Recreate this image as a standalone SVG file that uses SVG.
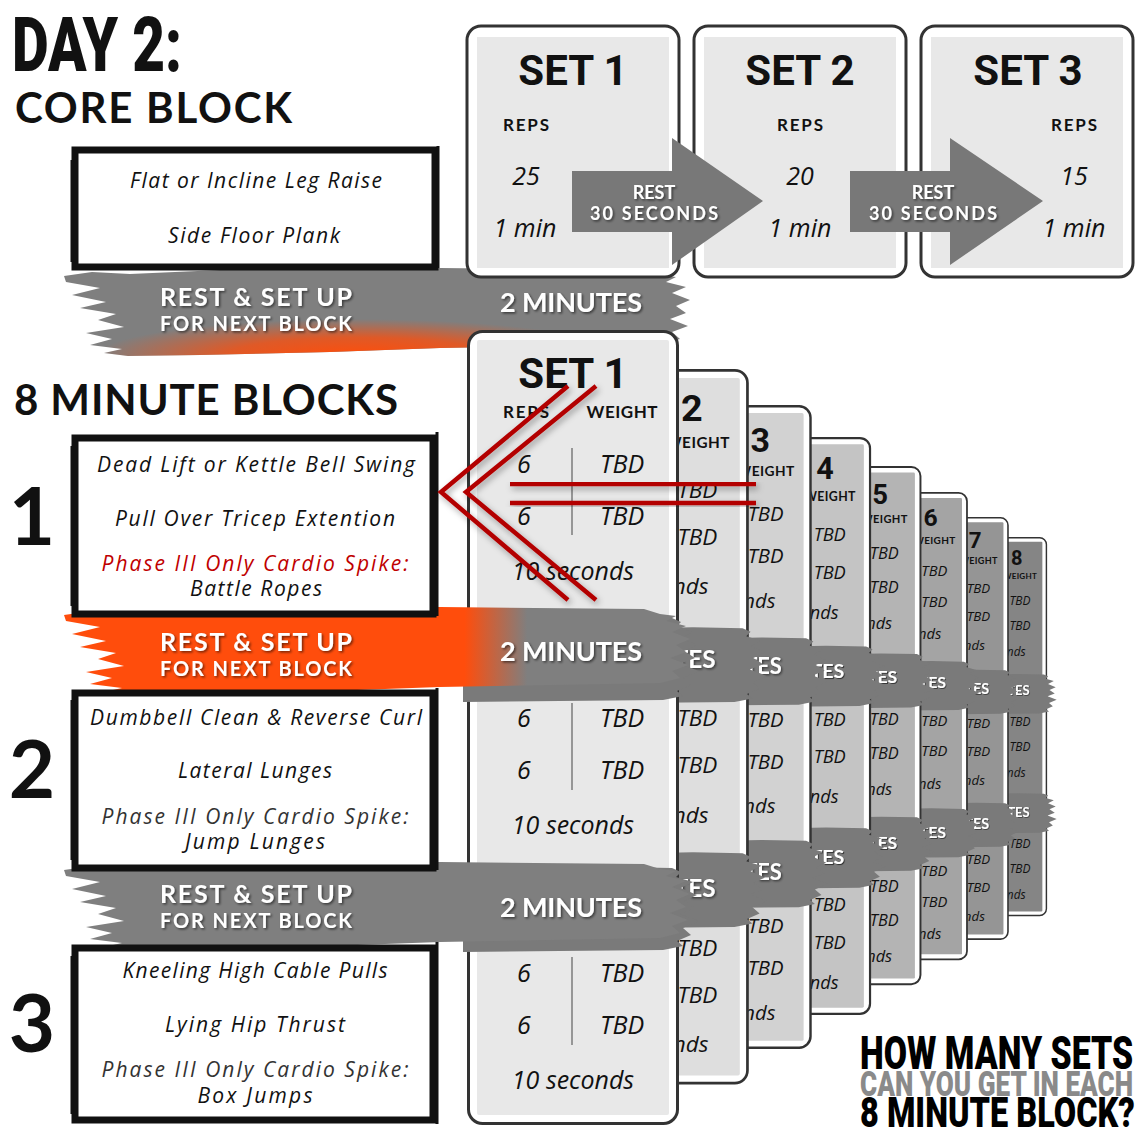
<svg xmlns="http://www.w3.org/2000/svg" xmlns:xlink="http://www.w3.org/1999/xlink" width="1148" height="1148" viewBox="0 0 1148 1148">
<style>
.hw{font-family:"Open Sans","Noto Sans",sans-serif;font-style:italic;fill:#111}
.bx{font-size:21px;text-anchor:middle}
.cv{font-size:25px;text-anchor:middle}
.sans{font-family:Lato,"Open Sans",sans-serif;font-weight:700}
.wt{fill:#fff;filter:url(#sh);text-anchor:middle}
.lbl{font-family:Lato,"Open Sans",sans-serif;font-weight:700;font-size:17px;fill:#111;text-anchor:middle}
.setT{font-family:Roboto,"Liberation Sans",sans-serif;font-weight:700;font-size:42px;fill:#111;text-anchor:middle}
.cOut{fill:#fff;stroke:#333;stroke-width:3}
.cIn{fill:#e8e8e8}
.dv{stroke:#444;stroke-width:1;fill:none}
.strip{fill:#7a7a7a}
.frame{fill:#fff;stroke:#111;stroke-width:7}
.streak{stroke:#111;fill:none}
.arrow{fill:#787878}
.red{stroke:#b30000;stroke-width:4.5;fill:none;filter:url(#shR)}
.imp{font-family:Roboto,"Liberation Sans",sans-serif;font-weight:900}
.big{font-size:25px}
.sub{font-size:20px}
.min{font-size:27px}
.ph{fill:#333}
.phr{fill:#c00000}
.num{font-family:Lato,"Open Sans",sans-serif;font-weight:700;font-size:80px;fill:#111;text-anchor:middle}
.hd{font-family:Lato,"Open Sans",sans-serif;font-weight:700;font-size:42px;fill:#111}
</style>
<defs>
<filter id="sh" x="-10%" y="-20%" width="130%" height="160%">
<feDropShadow dx="1.5" dy="1.5" stdDeviation="1" flood-color="#000" flood-opacity="0.55"/>
</filter>
<filter id="shR" x="-10%" y="-10%" width="130%" height="130%">
<feDropShadow dx="2" dy="3" stdDeviation="3" flood-color="#000" flood-opacity="0.35"/>
</filter>
<radialGradient id="glow" cx="0.47" cy="1" r="0.42">
<stop offset="0" stop-color="#ff4d0a" stop-opacity="1"/>
<stop offset="0.5" stop-color="#ff4d0a" stop-opacity="0.75"/>
<stop offset="1" stop-color="#ff4d0a" stop-opacity="0"/>
</radialGradient>
<linearGradient id="og" x1="0" y1="0" x2="1" y2="0">
<stop offset="0" stop-color="#ff4d0c"/>
<stop offset="0.64" stop-color="#ff4d0c"/>
<stop offset="0.74" stop-color="#7f7f7f"/>
<stop offset="1" stop-color="#7f7f7f"/>
</linearGradient>
<path id="bn" d="M64,8 L92,4 L130,6 L220,2 L440,0 L644,2 L660,7 L676,9 L666,14 L686,19 L672,25 L690,32 L676,38 L686,45 L670,51 L688,58 L672,64 L680,71 L660,76 L440,80 L330,84 L200,87 L128,88 L104,85 L122,81 L90,77 L112,71 L86,65 L124,59 L98,52 L116,46 L80,40 L106,34 L72,27 L100,20 L66,14 Z"/>
<path id="st" d="M-4,290 L150,287 L205,288 L214,292 L209,297 L226,302 L214,308 L230,315 L217,321 L228,328 L213,334 L232,341 L216,348 L224,355 L210,361 L216,366 L196,370 L-4,372 Z"/>
<g id="cardBody">
<rect class="cOut" x="1.5" y="1.5" width="209" height="792" rx="14"/>
<rect x="10" y="10" width="192" height="775" rx="2"/>
<text class="lbl" x="59" y="88" textLength="46">REPS</text>
<text class="lbl" x="155" y="88" textLength="71">WEIGHT</text>
<path class="dv" d="M105,118V205M105,373V460M105,627V715"/>
<text class="hw cv" x="57" y="143">6</text><text class="hw cv" x="155" y="143">TBD</text>
<text class="hw cv" x="57" y="195">6</text><text class="hw cv" x="155" y="195">TBD</text>
<text class="hw cv" x="106" y="250">10 seconds</text>
<text class="hw cv" x="57" y="397">6</text><text class="hw cv" x="155" y="397">TBD</text>
<text class="hw cv" x="57" y="449">6</text><text class="hw cv" x="155" y="449">TBD</text>
<text class="hw cv" x="106" y="504">10 seconds</text>
<text class="hw cv" x="57" y="652">6</text><text class="hw cv" x="155" y="652">TBD</text>
<text class="hw cv" x="57" y="704">6</text><text class="hw cv" x="155" y="704">TBD</text>
<text class="hw cv" x="106" y="759">10 seconds</text>
<use xlink:href="#st" class="strip"/>
<text class="sans wt min" x="104" y="332" textLength="142">2 MINUTES</text>
<use xlink:href="#st" class="strip" y="250"/>
<text class="sans wt min" x="104" y="587" textLength="142">2 MINUTES</text>
</g>
</defs>

<rect width="1148" height="1148" fill="#fff"/>

<g id="titles">
<text class="imp" transform="translate(12,71) scale(0.736,1)" font-size="76" textLength="231" lengthAdjust="spacingAndGlyphs" fill="#111">DAY 2:</text>
<text class="hd" x="15" y="123" textLength="277">CORE BLOCK</text>
<text class="hd" x="14" y="415" textLength="384">8 MINUTE BLOCKS</text>
</g>

<g id="rest-core">
<use xlink:href="#bn" y="268" fill="#7f7f7f"/>
<use xlink:href="#bn" y="268" fill="url(#glow)"/>
<text class="sans wt big" x="256" y="306" textLength="192">REST &amp; SET UP</text>
<text class="sans wt sub" x="256" y="331" textLength="192">FOR NEXT BLOCK</text>
<text class="sans wt min" x="571" y="312" textLength="142">2 MINUTES</text>
</g>

<g id="core-sets">
<g id="core-set1">
<rect class="cOut" x="467" y="26" width="212" height="251" rx="14"/>
<rect class="cIn" x="477" y="37" width="192" height="231"/>
<text class="setT" x="573" y="85">SET 1</text>
<text class="lbl" x="526" y="131" textLength="46">REPS</text>
<text class="hw cv" x="526" y="185">25</text>
<text class="hw cv" x="525" y="237">1 min</text>
</g>
<g id="core-set2">
<rect class="cOut" x="694" y="26" width="212" height="251" rx="14"/>
<rect class="cIn" x="704" y="37" width="192" height="231"/>
<text class="setT" x="800" y="85">SET 2</text>
<text class="lbl" x="800" y="131" textLength="46">REPS</text>
<text class="hw cv" x="800" y="185">20</text>
<text class="hw cv" x="800" y="237">1 min</text>
</g>
<g id="core-set3">
<rect class="cOut" x="921" y="26" width="212" height="251" rx="14"/>
<rect class="cIn" x="931" y="37" width="192" height="231"/>
<text class="setT" x="1028" y="85">SET 3</text>
<text class="lbl" x="1074" y="131" textLength="46">REPS</text>
<text class="hw cv" x="1074" y="185">15</text>
<text class="hw cv" x="1074" y="237">1 min</text>
</g>
</g>

<g id="connectors">
<g id="rest-arrow1">
<polygon class="arrow" points="572,171 672,171 672,138 763,201 672,265 672,232 572,232"/>
<text class="sans wt" x="654" y="199" font-size="18">REST</text>
<text class="sans wt" x="654" y="220" font-size="18" textLength="128">30 SECONDS</text>
</g>
<g id="rest-arrow2">
<polygon class="arrow" points="850,171 950,171 950,138 1043,201 950,265 950,232 850,232"/>
<text class="sans wt" x="933" y="199" font-size="18">REST</text>
<text class="sans wt" x="933" y="220" font-size="18" textLength="128">30 SECONDS</text>
</g>
</g>

<g id="block-sets">
<g id="set8" transform="translate(946,537) scale(0.477)"><use xlink:href="#cardBody" fill="#858585"/><text class="setT" x="106" y="58">SET 8</text></g>
<g id="set7" transform="translate(896,517) scale(0.532)"><use xlink:href="#cardBody" fill="#959595"/><text class="setT" x="106" y="58">SET 7</text></g>
<g id="set6" transform="translate(843,492) scale(0.589)"><use xlink:href="#cardBody" fill="#a4a4a4"/><text class="setT" x="106" y="58">SET 6</text></g>
<g id="set5" transform="translate(783,466) scale(0.653)"><use xlink:href="#cardBody" fill="#b4b4b4"/><text class="setT" x="106" y="58">SET 5</text></g>
<g id="set4" transform="translate(717,437) scale(0.727)"><use xlink:href="#cardBody" fill="#c4c4c4"/><text class="setT" x="106" y="58">SET 4</text></g>
<g id="set3" transform="translate(640,405) scale(0.81)"><use xlink:href="#cardBody" fill="#d2d2d2"/><text class="setT" x="106" y="58">SET 3</text></g>
<g id="set2" transform="translate(558,369) scale(0.9)"><use xlink:href="#cardBody" fill="#dedede"/><text class="setT" x="106" y="58">SET 2</text></g>
<g id="set1" transform="translate(467,330)"><use xlink:href="#cardBody" fill="#e8e8e8"/><text class="setT" x="106" y="58">SET 1</text></g>
</g>

<g id="rest-1">
<use xlink:href="#bn" y="607" fill="url(#og)"/>
<text class="sans wt big" x="256" y="651" textLength="192">REST &amp; SET UP</text>
<text class="sans wt sub" x="256" y="676" textLength="192">FOR NEXT BLOCK</text>
<text class="sans wt min" x="571" y="661" textLength="142">2 MINUTES</text>
</g>
<g id="rest-2">
<use xlink:href="#bn" y="862" fill="#7f7f7f"/>
<text class="sans wt big" x="256" y="903" textLength="192">REST &amp; SET UP</text>
<text class="sans wt sub" x="256" y="928" textLength="192">FOR NEXT BLOCK</text>
<text class="sans wt min" x="571" y="917" textLength="142">2 MINUTES</text>
</g>

<g id="core-box">
<rect class="frame" x="75" y="150" width="360" height="117"/>
<path class="streak" stroke-width="3" d="M438,146V268M72,160V262"/>
<text class="hw bx" x="256" y="188" textLength="252">Flat or Incline Leg Raise</text>
<text class="hw bx" x="254" y="243" textLength="172">Side Floor Plank</text>
</g>

<g id="block1">
<text class="num" x="32" y="545">1</text>
<rect class="frame" x="75" y="438" width="358" height="176"/>
<path class="streak" stroke-width="3" d="M437,432V616M72,446V606"/>
<text class="hw bx" x="256" y="472" textLength="318">Dead Lift or Kettle Bell Swing</text>
<text class="hw bx" x="255" y="526" textLength="280">Pull Over Tricep Extention</text>
<text class="hw bx phr" x="255" y="571" textLength="307">Phase III Only Cardio Spike:</text>
<text class="hw bx" x="256" y="596" textLength="132">Battle Ropes</text>
</g>

<g id="block2">
<text class="num" x="32" y="798">2</text>
<rect class="frame" x="75" y="693" width="358" height="175"/>
<path class="streak" stroke-width="3" d="M437,688V870M72,700V860"/>
<text class="hw bx" x="256" y="725" textLength="332">Dumbbell Clean &amp; Reverse Curl</text>
<text class="hw bx" x="255" y="778" textLength="154">Lateral Lunges</text>
<text class="hw bx ph" x="255" y="824" textLength="307">Phase III Only Cardio Spike:</text>
<text class="hw bx" x="255" y="849" textLength="140">Jump Lunges</text>
</g>

<g id="block3">
<text class="num" x="32" y="1052">3</text>
<rect class="frame" x="75" y="948" width="358" height="172"/>
<path class="streak" stroke-width="3" d="M437,942V1124M72,956V1114"/>
<text class="hw bx" x="255" y="978" textLength="265">Kneeling High Cable Pulls</text>
<text class="hw bx" x="255" y="1032" textLength="180">Lying Hip Thrust</text>
<text class="hw bx ph" x="255" y="1077" textLength="307">Phase III Only Cardio Spike:</text>
<text class="hw bx" x="255" y="1103" textLength="115">Box Jumps</text>
</g>

<g id="back-arrow">
<path class="red" d="M568,386 L441,492 L568,600"/>
<path class="red" d="M596,386 L466,492 L596,600"/>
<path class="red" d="M510,484 H756 M510,503 H756"/>
</g>

<g id="question">
<text class="imp" transform="translate(860,1069) scale(0.74,1)" font-size="46" textLength="369" lengthAdjust="spacingAndGlyphs" fill="#000">HOW MANY SETS</text>
<text class="imp" transform="translate(860,1096) scale(0.746,1)" font-size="35" textLength="366" lengthAdjust="spacingAndGlyphs" fill="#8a8a8a">CAN YOU GET IN EACH</text>
<text class="imp" transform="translate(860,1127) scale(0.77,1)" font-size="42" textLength="357" lengthAdjust="spacingAndGlyphs" fill="#000">8 MINUTE BLOCK?</text>
</g>
</svg>
